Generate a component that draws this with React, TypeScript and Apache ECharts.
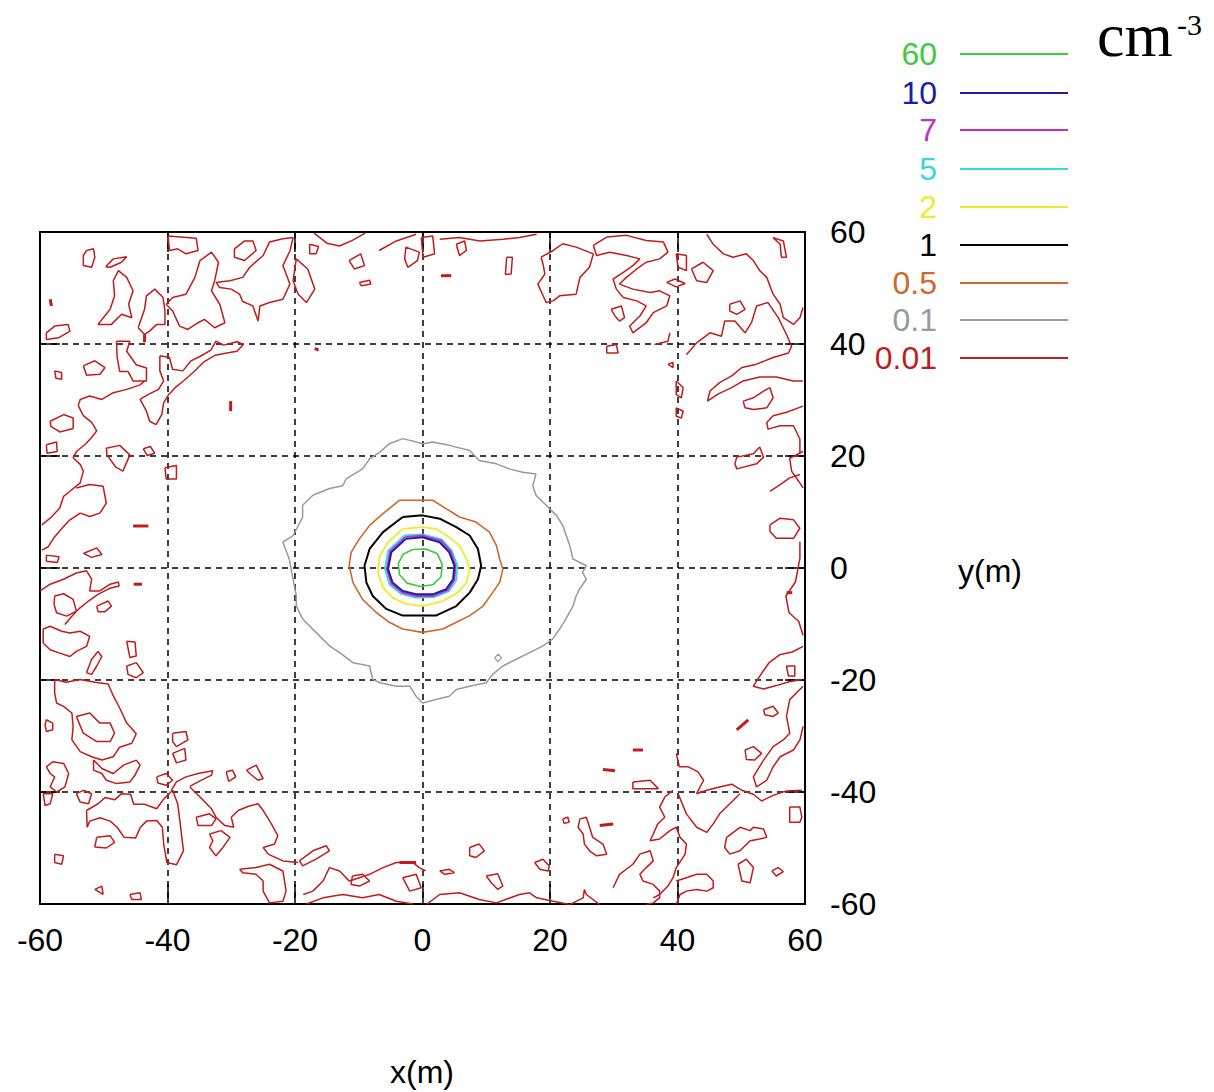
import React, { useEffect, useRef } from "react";
import * as echarts from "echarts";

type Pt = [number, number];

const axisMin = -60;
const axisMax = 60;
const axisStep = 20;

const levelLabels = ["60", "10", "7", "5", "2", "1", "0.5", "0.1", "0.01"];
const levelColors = ["#3ec93e", "#1c1ca8", "#c030c8", "#36dada", "#ecec2e", "#000000", "#d0682c", "#9a9a9a", "#c01c1c"];

const c60: Pt[] = [[-1.5, 3.3], [0.5, 3.4], [2.3, 2.6], [3.1, 0.6], [2.9, -1.6], [1.6, -3.0], [-0.4, -3.3], [-2.4, -2.7], [-3.6, -1.2], [-3.8, 0.8], [-3.0, 2.5]];
const c10: Pt[] = [[-2.6, 5.2], [0.0, 5.5], [2.7, 4.6], [4.2, 2.8], [5.0, 0.4], [4.8, -2.0], [3.7, -3.8], [1.6, -4.7], [-1.0, -4.7], [-3.1, -4.1], [-4.7, -2.6], [-5.4, -0.2], [-4.9, 2.8]];
const c7: Pt[] = [[-2.7, 5.5], [0.0, 5.8], [2.9, 4.9], [4.4, 3.0], [5.2, 0.4], [5.0, -2.1], [3.9, -4.0], [1.7, -5.0], [-1.0, -5.0], [-3.2, -4.4], [-4.9, -2.8], [-5.6, -0.2], [-5.1, 3.0]];
const c5: Pt[] = [[-2.8, 5.8], [0.0, 6.0], [3.0, 5.1], [4.6, 3.1], [5.5, 0.4], [5.3, -2.2], [4.1, -4.2], [1.8, -5.2], [-1.1, -5.3], [-3.4, -4.6], [-5.2, -2.9], [-5.9, -0.2], [-5.4, 3.1]];
const c2: Pt[] = [[-3.1, 7.0], [0.0, 7.3], [2.1, 7.0], [4.2, 5.5], [5.8, 4.0], [6.9, 1.6], [7.4, -0.2], [6.9, -2.6], [5.5, -4.4], [3.2, -5.9], [0.0, -6.8], [-2.6, -6.4], [-4.7, -5.3], [-6.2, -3.5], [-7.0, -0.8], [-6.7, 2.2], [-5.4, 4.6]];
const c1: Pt[] = [[-3.1, 9.1], [0.0, 9.4], [2.7, 8.8], [5.3, 7.3], [7.4, 5.8], [8.7, 3.4], [9.2, 0.4], [8.7, -2.0], [7.4, -4.4], [5.3, -6.8], [2.1, -8.5], [-3.1, -8.5], [-5.7, -7.3], [-7.8, -5.0], [-8.8, -2.6], [-9.1, 0.4], [-8.3, 3.4], [-6.2, 6.4]];
const c05: Pt[] = [[-3.6, 12.1], [1.6, 12.1], [3.7, 10.6], [5.8, 9.1], [8.4, 8.2], [10.5, 6.4], [11.6, 4.0], [12.1, 1.6], [12.6, -0.2], [12.1, -2.6], [11.0, -4.4], [9.5, -6.8], [7.4, -8.5], [5.3, -9.7], [3.2, -10.9], [0.0, -11.5], [-3.1, -10.9], [-5.2, -9.7], [-7.3, -7.9], [-9.4, -5.6], [-10.9, -2.6], [-11.5, 0.4], [-11.2, 2.8], [-9.9, 5.2], [-8.3, 7.6], [-6.2, 9.7]];
const c01: Pt[] = [[-3.1, 23.1], [0.1, 22.2], [1.6, 22.5], [4.2, 21.9], [7.4, 21.0], [8.9, 19.2], [11.6, 18.6], [13.6, 17.7], [15.7, 17.1], [17.8, 16.8], [17.3, 14.7], [17.8, 13.0], [19.4, 11.2], [21.0, 9.4], [22.0, 7.6], [23.1, 4.0], [23.6, 1.6], [25.7, 0.4], [25.1, -0.8], [25.7, -2.0], [24.6, -3.8], [24.1, -5.0], [23.6, -6.8], [22.5, -9.1], [21.5, -10.9], [20.4, -12.7], [18.9, -13.9], [16.8, -15.1], [14.7, -16.3], [12.6, -17.5], [11.0, -19.0], [10.0, -20.5], [7.4, -21.1], [5.3, -21.7], [4.2, -22.9], [2.1, -23.5], [0.0, -24.1], [-1.0, -22.9], [-2.0, -21.1], [-4.1, -21.1], [-6.7, -20.5], [-7.8, -19.9], [-8.3, -17.5], [-10.9, -16.9], [-13.0, -15.1], [-14.6, -13.9], [-16.7, -11.5], [-18.8, -9.1], [-19.8, -6.8], [-19.8, -5.0], [-20.3, -2.0], [-20.9, 1.6], [-21.9, 4.6], [-20.3, 5.8], [-18.8, 9.1], [-18.8, 11.2], [-17.2, 13.0], [-14.6, 14.2], [-12.5, 14.7], [-12.0, 15.9], [-9.4, 17.7], [-8.3, 19.5], [-6.7, 20.7], [-5.2, 22.2]];
const c01Small: Pt[] = [[11.3, -16.0], [11.9, -15.4], [12.4, -16.1], [11.8, -16.7]];

const c001Loops: Pt[][] = [
  [[-52.7, 56.7], [-51.6, 57.0], [-51.4, 55.5], [-51.9, 53.7], [-53.2, 54.0], [-53.2, 55.8]],
  [[-49.7, 53.8], [-48.5, 55.2], [-46.4, 55.6], [-47.2, 54.6], [-49.0, 53.7]],
  [[-50.9, 43.5], [-49.0, 46.2], [-48.3, 48.6], [-48.5, 51.3], [-47.7, 53.1], [-46.4, 51.9], [-45.4, 49.5], [-46.1, 47.1], [-45.6, 44.7], [-47.2, 45.3], [-48.8, 43.5]],
  [[-44.6, 42.9], [-43.6, 46.2], [-43.3, 48.6], [-42.0, 49.8], [-40.7, 48.3], [-40.4, 45.9], [-40.4, 43.5], [-41.7, 43.5], [-42.8, 42.3], [-43.6, 41.7]],
  [[-39.9, 59.3], [-35.5, 58.9], [-35.2, 56.7], [-37.1, 56.1], [-38.4, 57.0], [-39.7, 56.7]],
  [[-35.7, 51.9], [-34.9, 54.9], [-33.1, 56.4], [-32.0, 54.6], [-32.6, 51.3], [-33.1, 49.5], [-31.8, 47.1], [-31.0, 43.8], [-32.6, 42.9], [-34.2, 44.4], [-35.2, 43.8], [-36.8, 42.6], [-38.1, 43.2], [-39.2, 45.9], [-40.2, 47.1], [-39.2, 48.3], [-37.1, 48.9]],
  [[-29.5, 57.0], [-27.9, 58.4], [-26.6, 58.4], [-26.1, 56.7], [-27.9, 54.9], [-29.5, 55.5]],
  [[-32.4, 51.0], [-30.2, 51.3], [-28.2, 51.9], [-27.1, 53.7], [-25.0, 55.8], [-24.0, 58.2], [-21.9, 58.8], [-20.3, 59.0], [-20.8, 56.6], [-21.9, 54.0], [-20.8, 50.7], [-21.9, 48.0], [-24.0, 47.4], [-25.5, 46.8], [-25.8, 44.1], [-26.6, 46.8], [-28.2, 47.6], [-28.7, 48.9], [-30.0, 49.8], [-31.8, 50.1]],
  [[-19.8, 55.2], [-18.0, 53.4], [-16.9, 49.8], [-18.2, 47.4], [-19.5, 48.9], [-20.3, 51.3]],
  [[-17.7, 57.8], [-16.3, 57.4], [-16.7, 56.1], [-17.7, 56.1]],
  [[-11.5, 54.9], [-9.7, 56.1], [-9.1, 54.0], [-10.7, 53.4]],
  [[-9.9, 51.0], [-8.3, 51.4], [-8.1, 50.7], [-9.6, 50.4]],
  [[-2.6, 57.3], [-0.5, 56.4], [-0.8, 54.9], [-2.3, 53.7], [-2.8, 55.2]],
  [[-59.0, 42.0], [-57.7, 43.2], [-55.6, 43.5], [-55.3, 42.3], [-57.1, 41.1], [-59.0, 40.8]],
  [[-48.0, 40.5], [-45.9, 40.5], [-46.4, 38.7], [-44.9, 36.3], [-43.3, 35.7], [-43.3, 33.4], [-45.4, 33.4], [-46.2, 35.1], [-47.5, 35.1], [-47.9, 37.6]],
  [[-53.2, 36.1], [-51.4, 37.0], [-49.8, 35.8], [-50.6, 34.6], [-52.7, 34.4]],
  [[-57.7, 35.2], [-56.6, 34.9], [-56.6, 33.7], [-57.5, 33.9]],
  [[-41.2, 37.9], [-39.7, 37.6], [-39.2, 35.5], [-37.6, 35.2], [-36.3, 37.0], [-34.7, 37.9], [-33.2, 38.9], [-32.4, 40.5], [-31.2, 39.8], [-29.1, 40.4], [-28.1, 39.9], [-29.1, 38.7], [-30.7, 38.4], [-32.5, 38.0], [-34.3, 36.8], [-35.9, 35.0], [-37.5, 33.4], [-38.8, 32.2], [-39.8, 31.0], [-40.6, 29.5], [-40.9, 27.4], [-41.8, 25.6], [-42.8, 26.2], [-43.3, 28.0], [-44.3, 30.1], [-43.0, 31.0], [-41.4, 31.9], [-40.6, 33.4], [-41.2, 35.2]],
  [[-58.4, 26.2], [-56.3, 27.4], [-54.8, 26.8], [-54.8, 24.9], [-56.9, 24.3], [-58.3, 25.3]],
  [[-59.0, 22.0], [-57.4, 22.5], [-57.3, 20.8], [-58.9, 20.5]],
  [[-49.6, 21.4], [-47.5, 21.9], [-45.9, 20.2], [-47.0, 17.3], [-48.1, 18.0], [-49.5, 20.2]],
  [[-43.8, 21.3], [-42.7, 21.7], [-42.0, 20.5], [-43.2, 20.1]],
  [[-40.4, 17.9], [-38.6, 18.3], [-38.6, 15.9], [-40.2, 15.9]],
  [[-53.2, 2.6], [-51.1, 3.6], [-50.3, 2.4], [-51.9, 1.9]],
  [[-59.0, 2.3], [-57.0, 2.0], [-57.3, 1.0], [-59.0, 1.2]],
  [[-0.2, 59.0], [1.6, 59.3], [1.9, 56.1], [0.1, 55.5]],
  [[5.3, 57.8], [6.6, 58.4], [6.9, 56.7], [5.8, 55.8]],
  [[13.2, 55.5], [14.1, 55.5], [13.9, 52.5], [13.0, 52.4]],
  [[18.6, 55.5], [20.5, 56.7], [22.0, 57.9], [24.1, 57.3], [26.8, 56.1], [26.2, 53.7], [24.7, 51.9], [24.1, 48.9], [21.5, 48.6], [20.5, 47.7], [19.4, 47.4], [18.1, 50.7], [19.2, 52.5], [18.9, 54.3]],
  [[26.8, 57.6], [28.9, 59.1], [32.0, 59.4], [35.1, 58.5], [37.8, 58.2], [38.5, 56.4], [37.2, 55.2], [35.1, 54.6], [33.6, 53.4], [32.0, 51.9], [30.9, 50.7], [33.0, 49.8], [35.7, 49.2], [37.2, 49.5], [38.8, 48.6], [38.3, 46.8], [36.2, 45.6], [35.1, 43.8], [33.0, 42.0], [32.5, 43.2], [34.1, 45.0], [35.1, 46.8], [33.6, 47.7], [31.5, 48.3], [30.4, 49.8], [29.9, 51.6], [31.5, 52.8], [33.0, 54.0], [34.1, 55.2], [32.0, 55.8], [29.4, 56.4], [27.3, 55.8]],
  [[29.6, 46.2], [31.2, 46.8], [31.7, 44.7], [30.9, 44.1], [30.2, 45.0]],
  [[28.9, 39.6], [30.4, 39.9], [30.7, 38.4], [28.9, 38.4]],
  [[39.8, 56.1], [41.4, 55.8], [41.4, 53.1], [40.1, 53.7]],
  [[38.3, 51.0], [39.6, 51.6], [41.2, 50.8], [39.8, 50.2]],
  [[42.2, 53.4], [44.0, 54.6], [45.6, 53.1], [44.6, 51.0], [43.0, 51.3]],
  [[55.0, 59.0], [56.6, 58.4], [57.1, 55.5], [56.3, 55.5], [56.1, 57.8]],
  [[48.2, 47.1], [49.8, 47.7], [50.6, 46.2], [49.3, 45.3], [48.2, 45.9]],
  [[50.3, 29.8], [51.9, 30.4], [53.5, 31.6], [54.5, 32.2], [55.0, 30.4], [54.0, 28.6], [51.9, 28.3], [50.6, 28.6]],
  [[49.3, 19.8], [51.9, 20.4], [52.9, 21.6], [53.5, 19.8], [52.4, 18.6], [49.3, 17.7], [49.0, 18.6]],
  [[54.5, 7.7], [56.1, 8.9], [58.2, 8.6], [59.2, 7.1], [58.2, 5.3], [55.5, 5.3], [54.5, 6.5]],
  [[39.8, 33.4], [40.9, 32.2], [40.6, 30.4], [39.8, 31.0]],
  [[39.8, 28.6], [40.9, 28.0], [40.6, 26.8], [39.8, 27.1]],
  [[38.5, 36.4], [39.3, 36.7], [39.3, 35.8]],
  [[-57.7, -5.0], [-56.3, -4.6], [-54.8, -5.6], [-54.3, -7.7], [-55.8, -8.6], [-57.4, -8.0], [-57.8, -6.5]],
  [[-51.1, -6.8], [-49.3, -5.9], [-48.8, -6.8], [-49.8, -7.8], [-50.9, -7.8]],
  [[-59.5, -10.9], [-58.4, -10.4], [-56.6, -11.3], [-55.3, -11.6], [-53.7, -11.3], [-52.2, -12.2], [-52.7, -14.0], [-54.3, -14.9], [-55.3, -15.8], [-56.9, -15.2], [-58.4, -14.6], [-59.5, -13.4]],
  [[-46.4, -13.1], [-45.1, -13.2], [-44.9, -15.7], [-45.9, -16.0]],
  [[-46.4, -17.5], [-44.9, -16.9], [-43.8, -18.7], [-44.9, -19.6], [-46.2, -19.0]],
  [[-52.7, -18.7], [-51.9, -16.3], [-50.9, -14.9], [-50.3, -15.8], [-51.1, -17.5], [-51.9, -19.0]],
  [[-57.7, -19.9], [-55.9, -20.4], [-53.7, -19.9], [-51.4, -20.4], [-49.3, -20.7], [-48.6, -22.6], [-47.5, -25.0], [-46.4, -27.7], [-44.9, -29.6], [-45.6, -31.3], [-47.5, -32.0], [-48.5, -33.7], [-50.3, -34.3], [-51.9, -33.7], [-53.7, -32.8], [-55.0, -30.7], [-54.8, -28.3], [-55.0, -25.9], [-56.3, -24.7], [-57.4, -24.1], [-57.7, -22.3]],
  [[-54.3, -26.5], [-52.2, -25.9], [-50.6, -27.7], [-49.0, -27.7], [-48.3, -29.5], [-49.0, -31.0], [-51.1, -31.0], [-53.2, -29.5]],
  [[-51.6, -34.3], [-50.3, -35.8], [-48.5, -36.7], [-46.9, -35.2], [-44.9, -34.3], [-44.3, -35.2], [-45.1, -37.0], [-45.9, -38.2], [-48.0, -38.5], [-49.6, -37.9], [-50.3, -36.7], [-51.6, -36.1]],
  [[-59.0, -27.1], [-58.0, -27.7], [-58.0, -28.9], [-59.0, -29.2], [-59.2, -28.0]],
  [[-59.0, -35.5], [-58.0, -34.6], [-56.3, -34.9], [-55.5, -36.7], [-56.1, -39.1], [-57.4, -40.0], [-58.4, -39.1], [-57.7, -37.3], [-58.4, -36.7]],
  [[-59.5, -40.3], [-58.0, -40.3], [-58.4, -42.1], [-59.2, -42.4]],
  [[-54.3, -40.3], [-53.2, -39.7], [-51.9, -40.3], [-52.4, -42.1], [-53.7, -41.8]],
  [[-52.7, -43.3], [-50.9, -42.1], [-49.8, -41.0], [-48.3, -41.4], [-47.2, -40.3], [-45.8, -40.4], [-45.3, -42.2], [-43.6, -42.2], [-41.7, -43.0], [-40.7, -41.4], [-39.2, -39.7], [-38.4, -42.1], [-38.0, -45.7], [-37.5, -50.5], [-38.6, -53.0], [-40.1, -52.6], [-40.6, -49.3], [-40.8, -46.3], [-41.7, -45.1], [-43.3, -45.2], [-44.3, -46.4], [-45.0, -48.2], [-46.8, -48.1], [-47.9, -46.3], [-49.0, -45.2], [-50.6, -44.6], [-52.2, -45.2], [-52.6, -46.3]],
  [[-51.1, -48.1], [-49.0, -47.8], [-48.3, -49.0], [-49.6, -50.0], [-51.4, -49.8]],
  [[-41.7, -37.3], [-40.2, -36.7], [-39.2, -37.9], [-40.2, -38.8], [-41.5, -38.4]],
  [[-35.5, -44.5], [-33.4, -43.9], [-32.4, -44.8], [-33.1, -46.0], [-35.2, -46.0]],
  [[-33.4, -47.5], [-31.6, -46.9], [-30.2, -48.1], [-31.3, -49.9], [-32.4, -51.4], [-33.4, -49.9], [-32.9, -48.7]],
  [[-30.8, -36.4], [-29.8, -36.1], [-29.3, -37.3], [-30.4, -38.1]],
  [[-27.6, -36.1], [-26.1, -35.2], [-25.0, -37.6], [-25.8, -37.9], [-27.1, -36.7]],
  [[-39.2, -29.5], [-37.1, -29.2], [-36.8, -30.7], [-38.6, -31.9], [-39.2, -31.0]],
  [[-39.2, -33.1], [-37.3, -32.2], [-37.1, -34.3], [-38.6, -34.8]],
  [[-28.7, -53.8], [-26.1, -53.5], [-24.0, -52.9], [-21.9, -54.1], [-21.4, -57.7], [-21.9, -59.5], [-24.0, -59.8], [-25.0, -57.7], [-25.0, -55.9], [-26.1, -54.7], [-28.2, -54.4]],
  [[-19.3, -52.3], [-17.2, -50.5], [-15.1, -49.6], [-14.6, -50.5], [-16.7, -52.0], [-18.8, -53.2]],
  [[-11.0, -55.0], [-9.4, -54.7], [-8.3, -55.9], [-9.9, -56.8], [-11.2, -56.5]],
  [[-3.1, -55.3], [-1.0, -54.7], [-0.2, -57.1], [-2.0, -57.7]],
  [[-45.9, -58.3], [-44.3, -58.0], [-44.1, -59.2], [-45.6, -59.2]],
  [[-51.4, -57.4], [-50.3, -56.8], [-50.1, -58.3]],
  [[-57.7, -51.1], [-56.3, -51.4], [-56.6, -52.9], [-57.7, -52.6]],
  [[57.1, -17.5], [58.4, -17.5], [58.4, -19.3], [57.4, -19.3]],
  [[53.5, -25.3], [55.0, -24.7], [55.8, -25.9], [55.0, -26.5], [53.7, -26.2]],
  [[50.6, -32.5], [51.9, -31.9], [53.2, -33.1], [52.1, -34.3], [50.8, -34.2]],
  [[33.0, -38.2], [35.7, -37.9], [37.0, -39.4], [33.0, -39.4]],
  [[24.7, -44.8], [25.7, -44.5], [26.2, -46.3], [26.7, -48.1], [28.3, -49.3], [28.9, -51.1], [27.3, -51.4], [26.2, -50.5], [25.4, -49.3], [25.2, -47.5], [24.4, -46.3]],
  [[22.0, -44.8], [22.8, -44.5], [23.0, -45.4], [22.2, -45.6]],
  [[7.4, -49.9], [8.9, -49.3], [9.7, -50.5], [8.4, -51.7], [7.4, -51.4]],
  [[17.6, -52.6], [18.9, -52.0], [19.9, -53.2], [19.7, -54.1], [18.4, -53.8]],
  [[2.7, -54.1], [4.2, -53.8], [5.0, -54.4], [3.5, -54.7]],
  [[10.0, -55.0], [11.8, -54.6], [12.6, -56.8], [11.8, -57.4], [10.8, -56.2]],
  [[47.7, -48.1], [49.8, -46.3], [51.4, -46.9], [51.9, -46.3], [53.5, -46.6], [54.0, -48.1], [52.9, -48.4], [51.4, -48.7], [49.8, -50.5], [48.2, -51.1], [47.4, -49.9]],
  [[49.5, -52.9], [50.8, -52.0], [51.9, -53.5], [51.4, -56.2], [50.1, -55.9]],
  [[54.8, -54.1], [55.8, -53.5], [56.6, -54.2], [55.5, -55.0]],
  [[57.6, -42.7], [59.2, -42.7], [59.5, -44.5], [59.2, -45.4], [57.6, -45.4]],
];

const c001Strands: Pt[][] = [
  [[-17.0, 59.8], [-15.0, 58.0], [-13.0, 57.5], [-11.0, 58.5], [-9.0, 59.8]],
  [[-6.8, 56.7], [-4.1, 58.4], [-1.0, 59.6]],
  [[-59.7, 7.7], [-58.4, 8.9], [-56.9, 10.7], [-56.3, 12.8], [-55.3, 13.7], [-53.7, 15.2], [-53.2, 17.3], [-53.7, 18.5], [-54.8, 19.7], [-54.2, 20.9], [-52.9, 22.1], [-51.9, 23.3], [-51.1, 24.5], [-51.9, 26.0], [-53.2, 27.2], [-54.0, 29.0], [-53.7, 30.1], [-52.2, 30.7], [-50.3, 30.1], [-48.5, 31.3], [-46.4, 31.9], [-44.3, 32.7], [-43.6, 33.4]],
  [[-54.3, 14.3], [-52.2, 14.9], [-50.1, 14.6], [-49.6, 11.6], [-50.6, 9.8], [-52.2, 9.2], [-53.7, 9.8], [-55.3, 8.6], [-56.3, 7.4], [-57.7, 5.6], [-58.7, 3.8], [-59.7, 3.2]],
  [[2.7, 58.7], [5.8, 59.0], [9.0, 58.4], [12.6, 58.7], [15.2, 59.0], [17.9, 59.6]],
  [[44.6, 59.6], [45.6, 57.8], [47.2, 56.1], [48.7, 55.5], [50.8, 56.1], [51.9, 54.9], [52.9, 53.1], [54.0, 51.9], [55.0, 48.9], [56.1, 47.1], [56.6, 44.7], [58.2, 43.5], [59.2, 44.7], [59.7, 46.5]],
  [[41.4, 38.1], [43.0, 40.2], [45.1, 42.0], [46.9, 41.4], [47.4, 44.1], [49.0, 44.1], [50.6, 42.0], [51.6, 43.8], [52.4, 46.8], [54.2, 47.4], [55.8, 44.7], [57.1, 41.7], [57.9, 39.6], [57.4, 38.4], [55.0, 37.6], [52.4, 36.4], [50.1, 35.8], [48.5, 34.3], [46.6, 33.1], [45.1, 31.6], [44.7, 29.8], [46.4, 31.1], [48.5, 32.2], [50.3, 33.4], [52.9, 34.1], [55.5, 34.1], [58.2, 33.4], [59.7, 33.4]],
  [[59.7, 28.9], [57.1, 27.8], [55.0, 27.2], [54.0, 26.0], [54.2, 24.8], [56.1, 25.4], [58.2, 25.4], [59.2, 23.0], [59.2, 20.6]],
  [[59.7, 20.8], [57.6, 19.6], [57.9, 17.3], [59.0, 15.5], [59.7, 14.3]],
  [[54.5, 13.7], [56.1, 14.9], [57.6, 16.1], [59.2, 16.7]],
  [[59.2, 4.7], [59.2, 1.7], [58.5, -2.5], [57.0, -5.0], [57.5, -8.0], [59.0, -9.5], [59.7, -12.0]],
  [[59.7, -14.0], [58.0, -15.0], [56.0, -15.5], [54.3, -17.0], [52.9, -19.3], [51.9, -21.1], [53.5, -21.6], [55.5, -21.0], [57.5, -20.3], [59.5, -19.9]],
  [[59.7, -21.1], [57.6, -23.5], [57.1, -26.5], [57.6, -29.5], [56.6, -30.7], [55.0, -31.9], [53.5, -34.3], [51.9, -37.3], [52.4, -39.1], [54.0, -37.9], [55.0, -35.5], [56.1, -33.7], [58.2, -32.5], [59.2, -30.7], [59.7, -28.3]],
  [[36.4, 39.9], [38.5, 40.5], [38.8, 42.0]],
  [[-60.0, -4.1], [-58.4, -2.9], [-56.3, -2.0], [-54.3, -0.9], [-52.7, -0.5], [-51.9, -2.0], [-52.2, -4.1], [-50.6, -4.1], [-49.0, -2.9], [-47.7, -2.5], [-47.6, -3.2], [-49.0, -3.6], [-50.9, -4.7], [-52.4, -5.9], [-54.0, -7.4], [-55.0, -8.6], [-56.1, -10.1]],
  [[-36.5, -39.0], [-34.9, -38.0], [-33.1, -37.0], [-32.9, -36.2], [-35.2, -36.7], [-37.1, -37.3], [-38.6, -38.2], [-39.4, -39.7]],
  [[-36.5, -39.1], [-34.9, -40.9], [-33.1, -43.0], [-32.4, -44.5], [-31.0, -46.0], [-29.6, -46.3], [-30.0, -44.5], [-28.9, -43.3], [-27.4, -42.6], [-25.8, -42.1], [-25.0, -43.3], [-23.7, -45.7], [-22.7, -47.8], [-23.2, -49.3], [-25.0, -49.9], [-24.2, -51.1], [-21.9, -52.3], [-19.5, -52.6]],
  [[-18.7, -58.3], [-17.2, -57.7], [-15.6, -55.9], [-14.6, -53.5], [-13.0, -54.1], [-11.5, -55.9], [-9.9, -55.3], [-8.3, -54.7], [-6.2, -53.5], [-4.1, -52.6], [-1.5, -52.6], [-0.5, -53.5], [0.5, -54.1]],
  [[-18.2, -60.0], [-15.6, -58.9], [-12.5, -58.3], [-9.4, -58.9], [-6.8, -58.3], [-4.1, -59.5], [-1.5, -60.0]],
  [[39.8, -33.1], [40.3, -35.5], [41.7, -35.5], [43.2, -36.4], [44.1, -37.9], [43.0, -40.3], [44.6, -39.7], [46.6, -39.1], [48.5, -38.6], [50.1, -39.7], [51.9, -40.4], [53.2, -41.6], [55.0, -40.6], [57.1, -39.8], [59.5, -39.7]],
  [[40.1, -40.3], [41.4, -43.9], [43.0, -46.3], [44.6, -47.2], [45.6, -45.7], [46.6, -43.9], [48.2, -42.1], [49.8, -40.3]],
  [[39.3, -39.7], [38.0, -40.9], [37.2, -42.7], [38.0, -44.5], [36.9, -45.7], [36.2, -47.5], [35.7, -48.7], [37.2, -48.4], [38.8, -46.9], [39.8, -46.3], [40.4, -48.1], [41.4, -49.3], [41.2, -51.1], [39.8, -53.5], [39.3, -55.3], [38.5, -56.8], [37.2, -58.3], [36.2, -58.9]],
  [[0.6, -60.1], [2.7, -58.3], [5.8, -58.0], [8.9, -59.2], [11.6, -59.8], [15.2, -58.3], [16.8, -58.0], [17.9, -58.9], [20.5, -59.5], [23.1, -60.1], [25.2, -58.9], [25.4, -57.4], [25.7, -58.3], [27.8, -60.1]],
  [[29.9, -57.1], [30.9, -54.7], [33.0, -52.9], [34.1, -51.1], [35.7, -50.5], [36.2, -52.3], [35.1, -53.5], [34.1, -54.7], [34.6, -55.9], [36.2, -56.5], [37.2, -57.7], [37.2, -58.9], [36.2, -59.8], [35.1, -60.1]],
  [[39.8, -55.9], [41.4, -55.3], [43.0, -54.7], [44.6, -54.7], [45.6, -55.9], [45.6, -57.1], [44.6, -57.7], [43.0, -57.4], [41.4, -57.7], [40.4, -58.3], [39.8, -60.1]],
];

const c001Marks: Pt[][] = [
  [[-43.6, 41.7], [-43.6, 40.3]],
  [[-45.4, 7.5], [-43.0, 7.5]],
  [[-30.1, 29.8], [-30.1, 28.0]],
  [[-58.4, 48.0], [-58.2, 46.8]],
  [[2.9, 52.2], [4.5, 52.2]],
  [[-3.6, -52.6], [-1.0, -52.6]],
  [[33.0, -32.5], [34.6, -32.5]],
  [[28.3, -36.0], [30.2, -36.2]],
  [[27.8, -46.0], [29.9, -45.7]],
  [[49.3, -28.9], [51.1, -27.1]],
  [[57.1, -4.4], [58.0, -4.4]],
  [[-16.9, 39.2], [-16.3, 38.9]],
  [[-45.3, -2.9], [-44.0, -2.9]],
];

function closeLoop(p: Pt[]): Pt[] {
  return [...p, p[0]];
}

function lineSeries(data: Pt[], color: string, width: number) {
  return {
    type: "line",
    data,
    showSymbol: false,
    symbol: "none",
    silent: true,
    clip: true,
    lineStyle: { color, width },
    itemStyle: { color },
    z: 3,
  };
}

export default function App() {
  const ref = useRef<HTMLDivElement>(null);

  useEffect(() => {
    if (!ref.current) return;
    const chart = echarts.init(ref.current, undefined, { renderer: "svg" });

    const red = levelColors[8];
    const series: any[] = [];
    c001Loops.forEach((p) => series.push(lineSeries(closeLoop(p), red, 1.5)));
    c001Strands.forEach((p) => series.push(lineSeries(p, red, 1.5)));
    c001Marks.forEach((p) => series.push(lineSeries(p, red, 3)));
    series.push(lineSeries(closeLoop(c01), levelColors[7], 1.5));
    series.push(lineSeries(closeLoop(c01Small), levelColors[7], 1.2));
    series.push(lineSeries(closeLoop(c05), levelColors[6], 1.6));
    series.push(lineSeries(closeLoop(c1), levelColors[5], 2));
    series.push(lineSeries(closeLoop(c2), levelColors[4], 1.8));
    series.push(lineSeries(closeLoop(c5), levelColors[3], 1.8));
    series.push(lineSeries(closeLoop(c7), levelColors[2], 1.8));
    series.push(lineSeries(closeLoop(c10), levelColors[1], 2));
    series.push(lineSeries(closeLoop(c60), levelColors[0], 1.6));

    const labelFont = { fontFamily: "Liberation Sans", fontSize: 32, color: "#000" };
    const dashed = { show: true, lineStyle: { color: "#000", type: [6, 5], width: 1.5 } };
    const frameLine = { show: true, onZero: false, lineStyle: { color: "#000", width: 2 } };
    const tick = { show: true, inside: true, length: 20, lineStyle: { color: "#000", width: 1.5 } };

    const graphic: any[] = [];
    const legendY = [54, 93, 130, 169, 207, 245, 283, 320, 358];
    levelLabels.forEach((lab, i) => {
      graphic.push({
        type: "text",
        x: 937,
        y: legendY[i],
        style: { text: lab, fill: levelColors[i], fontSize: 32, fontFamily: "Liberation Sans", align: "right", verticalAlign: "middle" },
      });
      graphic.push({
        type: "line",
        shape: { x1: 960, y1: legendY[i], x2: 1068, y2: legendY[i] },
        style: { stroke: levelColors[i], lineWidth: 2 },
      });
    });
    graphic.push({
      type: "text",
      x: 1097,
      y: 35,
      style: { text: "cm", fill: "#000", fontSize: 62, fontFamily: "Liberation Serif", align: "left", verticalAlign: "middle" },
    });
    graphic.push({
      type: "text",
      x: 1177,
      y: 24,
      style: { text: "-3", fill: "#000", fontSize: 30, fontFamily: "Liberation Serif", align: "left", verticalAlign: "middle" },
    });
    graphic.push({
      type: "text",
      x: 958,
      y: 571,
      style: { text: "y(m)", fill: "#000", fontSize: 32, fontFamily: "Liberation Sans", align: "left", verticalAlign: "middle" },
    });
    graphic.push({
      type: "text",
      x: 422,
      y: 1072,
      style: { text: "x(m)", fill: "#000", fontSize: 32, fontFamily: "Liberation Sans", align: "center", verticalAlign: "middle" },
    });

    chart.setOption({
      animation: false,
      backgroundColor: "#fff",
      grid: { left: 40, right: 409, top: 232, bottom: 188, containLabel: false },
      xAxis: [
        {
          type: "value", min: axisMin, max: axisMax, interval: axisStep, position: "bottom",
          axisLine: frameLine, axisTick: tick, splitLine: dashed,
          axisLabel: { ...labelFont, margin: 20 },
        },
        {
          type: "value", min: axisMin, max: axisMax, interval: axisStep, position: "top",
          axisLine: frameLine, axisTick: tick, splitLine: { show: false }, axisLabel: { show: false },
        },
      ],
      yAxis: [
        {
          type: "value", min: axisMin, max: axisMax, interval: axisStep, position: "right",
          axisLine: frameLine, axisTick: tick, splitLine: dashed,
          axisLabel: { ...labelFont, margin: 25, align: "left" },
        },
        {
          type: "value", min: axisMin, max: axisMax, interval: axisStep, position: "left",
          axisLine: frameLine, axisTick: tick, splitLine: { show: false }, axisLabel: { show: false },
        },
      ],
      series,
      graphic,
    });

    return () => chart.dispose();
  }, []);

  return (
    <div
      ref={ref}
      style={{ position: "fixed", left: 0, top: 0, width: 1214, height: 1092, background: "#fff" }}
    />
  );
}
